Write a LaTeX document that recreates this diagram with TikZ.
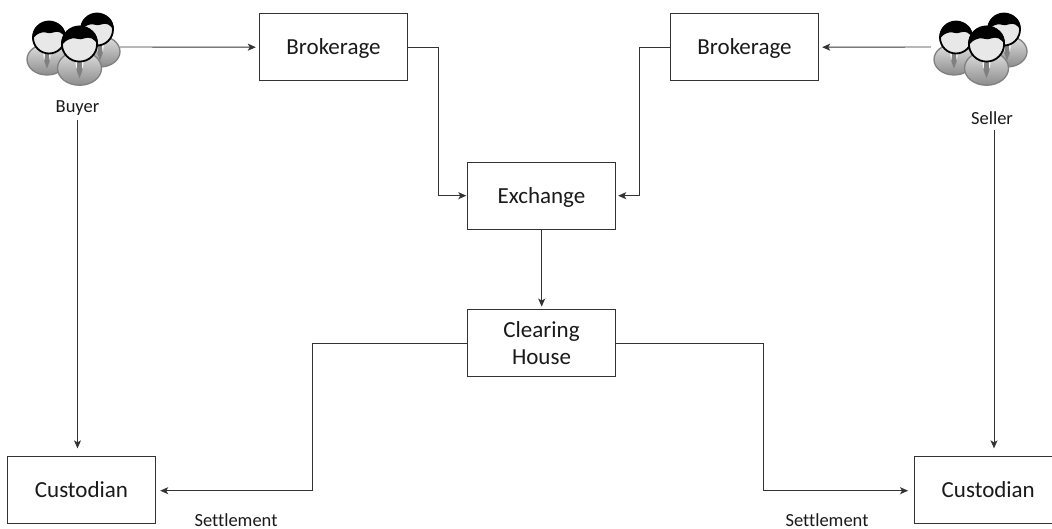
\documentclass[tikz,border=0pt]{standalone}
\usepackage{fontspec}
\setmainfont{Carlito}[RawFeature={-liga;-clig;-dlig}]
\usetikzlibrary{arrows.meta}
\definecolor{linecol}{gray}{0.2}
\definecolor{suitE}{gray}{0.5}
\definecolor{tieC}{gray}{0.5}
\definecolor{headC}{gray}{0.91}
\tikzset{
  x=1pt,y=-1pt,
  boxnode/.style={draw=linecol,line width=0.9pt,minimum width=148.5pt,minimum height=67pt,inner sep=0pt,align=center,font=\fontsize{23}{27}\selectfont,text=black!90},
  oneline/.style={text height=14.5pt,text depth=0pt},
  lbl/.style={inner sep=0pt,anchor=base,font=\fontsize{18.5}{22}\selectfont,text=black!90},
  conn/.style={draw=linecol,line width=0.9pt},
  arr/.style={conn,-{Stealth[length=8pt,width=7pt,inset=2pt]},shorten >=#1},
  arr/.default=3pt,
  iconbox/.style={inner sep=0pt,minimum width=92pt,minimum height=72pt},
  person/.pic={
    \path[top color=black!12,bottom color=black!45,draw=suitE,line width=1.3pt] (#1,22) ellipse [x radius=20,y radius=15.5];
    \path[fill=white] (#1-5,6) -- (#1+5,6) -- (#1+3,22) -- (#1-3,22) -- cycle;
    \path[fill=tieC] (#1-1.5,12) -- (#1+1.5,12) -- (#1+2.7,24) -- (#1,31) -- (#1-2.7,24) -- cycle;
    \path[fill=headC,draw=black,line width=1.8pt] (0,0) circle [radius=16];
    \path[fill=black] (-16.5,3) .. controls (-19,-22) and (19,-22) .. (16.5,1)
       .. controls (14,-5) and (9,-7) .. (4,-5)
       .. controls (0,-3) and (-3,-6) .. (-7,-5)
       .. controls (-11,-4) and (-15,-2) .. (-16.5,3) -- cycle;
  }
}
\begin{document}
\begin{tikzpicture}
\useasboundingbox (0,0) rectangle (1052,528);
\clip (0,0) rectangle (1052,528);
% buyer icon
\pic at (97,29.5) {person={3}};
\pic at (49,37.5) {person={-2}};
\pic[scale=1.1] at (79.5,44) {person={0}};
% seller icon
\pic at (1004,29.5) {person={3}};
\pic at (956,37.5) {person={-2}};
\pic[scale=1.1] at (986.5,44) {person={0}};
\node[iconbox] (buyericon) at (74,47) {};
\node[iconbox] (sellericon) at (977,47) {};
\node[lbl] (buyer) at (77.5,112.7) {Buyer};
\node[lbl] (seller) at (992,124) {Seller};
\node[boxnode,oneline] (brokerL) at (333.5,47.2) {Brokerage};
\node[boxnode,oneline] (brokerR) at (744.5,47.2) {Brokerage};
\node[boxnode,oneline] (exchange) at (541.5,196) {Exchange};
\node[boxnode] (clearing) at (541.5,343) {Clearing\\House};
\node[boxnode,oneline] (custL) at (81.5,490.3) {Custodian};
\node[boxnode,oneline] (custR) at (988.25,490.3) {Custodian};
\node[lbl] (settleL) at (236,526.5) {Settlement};
\node[lbl] (settleR) at (827,526.5) {Settlement};
% connectors
\draw[arr] (buyericon.east) -- (brokerL.west);
\draw[arr] (sellericon.west) -- (brokerR.east);
\draw[arr=0.5pt] (brokerL.east) -| (438.3,195.7) -- (exchange.west |- 0,195.7);
\draw[arr=2pt] (brokerR.west) -| (639,195.7) -- (exchange.east |- 0,195.7);
\draw[arr=2.5pt] (exchange.south -| 541.7,0) -- (clearing.north -| 541.7,0);
\draw[arr=4pt] (clearing.west) -| (312,490.7) -- (custL.east |- 0,490.7);
\draw[arr=5.5pt] (clearing.east) -| (763.3,490.7) -- (custR.west |- 0,490.7);
\draw[arr=8pt,shorten <=4pt] (buyer.south) -- (custL.north -| buyer.south);
\draw[arr=8pt,shorten <=6pt] (seller.south -| 994,0) -- (custR.north -| 994,0);
\end{tikzpicture}
\end{document}
